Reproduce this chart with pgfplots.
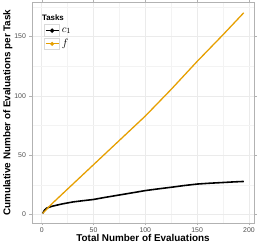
\documentclass[border=0pt]{standalone}
\usepackage{pgfplots}
\pgfplotsset{compat=1.18}
\usepackage{fontspec}
\setmainfont{Liberation Sans}
\definecolor{forange}{HTML}{E69F00}
\definecolor{gridc}{HTML}{EBEBEB}
\definecolor{tickc}{HTML}{4D4D4D}
\begin{document}
\begin{tikzpicture}
\begin{axis}[
  scale only axis,
  width=225pt, height=223pt,
  xmin=-9.5, xmax=205, ymin=-7, ymax=178.6,
  xtick={0,50,100,150,200},
  ytick={0,50,100,150},
  minor xtick={25,75,125,175},
  minor ytick={25,75,125,175},
  grid=both,
  major grid style={gridc, line width=0.5pt},
  minor grid style={gridc!60, line width=0.3pt},
  axis line style={black!30, line width=0.6pt},
  tick style={black!30},
  tick align=outside,
  major tick length=2.5pt,
  minor tick length=0pt,
  ticklabel style={font=\fontsize{7}{8}\selectfont, text=tickc},
  xticklabel style={yshift=1pt},
  /pgf/number format/assume math mode=true,
  xlabel={\textbf{Total Number of Evaluations}},
  ylabel={\textbf{Cumulative Number of Evaluations per Task}},
  label style={font=\fontsize{10}{11}\selectfont},
  xlabel style={yshift=5pt},
  ylabel style={yshift=-5pt},
  legend style={draw=none, fill=none, at={(axis cs:1.5,171)}, anchor=north west, font=\fontsize{11}{12}\selectfont, row sep=0.5pt, inner sep=1pt},
  legend cell align=left,
]
\addlegendimage{empty legend}
\addlegendentry{\hspace{-20pt}\fontsize{8}{9}\selectfont\textbf{Tasks}}
\addplot[black, line width=1.6pt, legend image code/.code={
  \draw[black!15, fill=white, line width=0.6pt] (0pt,-6pt) rectangle (15pt,6pt);
  \draw[black, line width=1pt] (1pt,0pt) -- (14pt,0pt);
  \fill[black] (7.5pt,0pt) circle (1.3pt);}] coordinates {
(1,1) (2,2.8) (3,4) (5,5.5) (10,7) (15,8) (20,9) (30,10.6) (40,11.7) (50,12.7) (60,14.3) (75,16.5) (90,18.7) (100,20.2) (112,21.6) (125,23) (137,24.4) (150,25.7) (162,26.4) (175,27) (185,27.5) (195,27.9)
};
\addlegendentry{$c_1$}
\addplot[forange, line width=1.3pt, legend image code/.code={
  \draw[black!15, fill=white, line width=0.6pt] (0pt,-6pt) rectangle (15pt,6pt);
  \draw[forange, line width=1pt] (1pt,0pt) -- (14pt,0pt);
  \fill[forange] (7.5pt,0pt) circle (1.3pt);}] coordinates {
(1,1) (10,9.2) (25,21.5) (50,42) (75,62.5) (100,83) (125,105.5) (150,129) (175,151.5) (195,170)
};
\addlegendentry{$f$}
\end{axis}
\end{tikzpicture}
\end{document}
